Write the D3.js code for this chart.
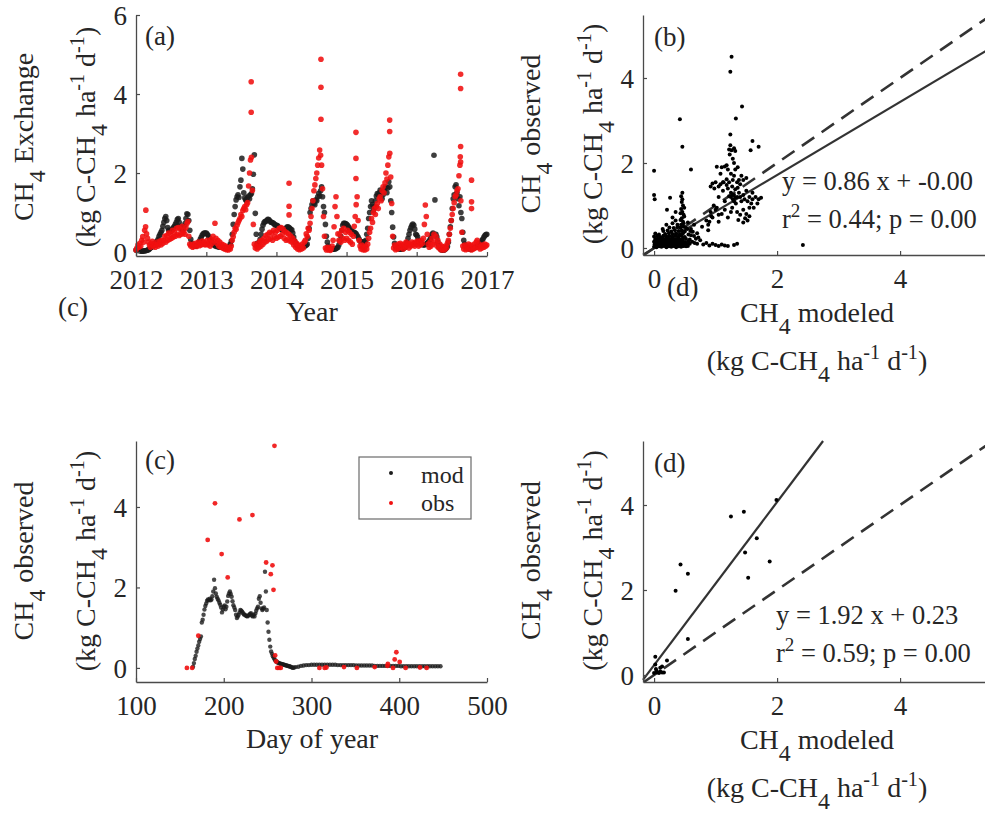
<!DOCTYPE html>
<html>
<head>
<meta charset="utf-8">
<script src="https://cdn.jsdelivr.net/npm/d3@7"></script>
<style>
  body { margin: 0; background: #fff; }
</style>
</head>
<body>
<svg id="fig" width="985" height="817"></svg>
<script>
// ---------- (a) daily CH4 exchange, sampled every 5 days from 1 Jan of each year ----------
const mod2012 = [0.05,0.05,0.04,0.04,0.03,0.03,0.02,0.02,0.03,0.03,
  0.03,0.04,0.05,0.06,0.08,0.10,0.12,0.14,0.16,0.19,
  0.22,0.25,0.28,0.32,0.40,0.45,0.50,0.55,0.65,0.75,
  0.85,0.90,0.80,0.62,0.55,0.53,0.52,0.55,0.58,0.62,
  0.65,0.70,0.75,0.82,0.85,0.75,0.65,0.60,0.56,0.57,
  0.65,0.72,0.85,0.97,0.95,0.80,0.55,0.32,0.22,0.18,
  0.16,0.15,0.15,0.16,0.18,0.22,0.27,0.33,0.38,0.43,
  0.46,0.48,0.48];
const mod2013 = [0.48,0.45,0.42,0.37,0.32,0.28,0.24,0.20,0.18,0.16,
  0.15,0.14,0.14,0.13,0.13,0.12,0.12,0.11,0.11,0.10,
  0.10,0.10,0.10,0.12,0.15,0.20,0.28,0.45,0.70,0.95,
  1.15,1.32,1.40,1.45,1.38,1.65,1.82,2.37,2.10,1.50,
  1.37,1.32,1.30,1.38,1.42,1.35,1.45,1.48,1.60,1.97,
  2.46,0.98,0.45,0.22,0.20,0.24,0.32,0.45,0.58,0.68,
  0.74,0.77,0.78,0.80,0.83,0.82,0.79,0.76,0.75,0.74,
  0.73,0.70,0.68];
const mod2014 = [0.68,0.67,0.64,0.62,0.60,0.58,0.57,0.56,0.56,0.58,
  0.60,0.63,0.64,0.62,0.60,0.57,0.56,0.48,0.38,0.28,
  0.22,0.18,0.16,0.15,0.14,0.13,0.13,0.13,0.14,0.15,
  0.16,0.17,0.20,0.35,0.60,1.00,1.10,1.20,1.30,1.23,
  1.20,1.32,1.30,1.40,1.49,1.42,1.55,1.65,1.40,1.15,
  1.00,0.70,0.40,0.25,0.15,0.10,0.08,0.07,0.07,0.07,
  0.08,0.08,0.09,0.10,0.12,0.18,0.28,0.40,0.55,0.68,
  0.73,0.73,0.72];
const mod2015 = [0.70,0.68,0.64,0.60,0.56,0.53,0.51,0.50,0.50,0.48,
  0.46,0.42,0.38,0.33,0.28,0.26,0.25,0.25,0.25,0.26,
  0.30,0.45,0.60,0.85,1.00,1.15,1.30,1.20,1.05,1.15,
  1.30,1.42,1.48,1.45,1.50,1.57,1.52,1.35,1.45,1.55,
  1.62,1.65,1.50,1.62,1.78,1.65,1.30,1.00,0.63,0.38,
  0.22,0.15,0.12,0.10,0.09,0.08,0.08,0.08,0.08,0.09,
  0.10,0.12,0.16,0.24,0.35,0.45,0.55,0.62,0.68,0.71,
  0.68,0.58,0.45];
const mod2016 = [0.43,0.38,0.30,0.25,0.22,0.20,0.19,0.18,0.18,0.19,
  0.20,0.22,0.25,0.28,0.32,0.38,0.45,0.48,2.45,1.32,
  0.45,0.38,0.25,0.15,0.10,0.07,0.05,0.05,0.05,0.06,
  0.08,0.10,0.14,0.25,0.45,0.64,0.80,1.10,1.35,1.45,
  1.65,1.70,1.50,1.35,1.17,1.40,1.00,0.85,0.50,0.30,
  0.20,0.15,0.12,0.10,0.09,0.08,0.08,0.08,0.09,0.10,
  0.11,0.12,0.13,0.15,0.18,0.20,0.22,0.25,0.30,0.33,
  0.38,0.42,0.44,0.45];

const obs2012 = [0.05,0.10,0.18,0.12,0.22,0.15,0.30,0.39,0.25,0.55,
  0.64,0.46,0.35,0.25,0.18,0.12,0.22,0.27,0.15,0.20,
  0.12,0.18,0.25,0.15,0.20,0.28,0.18,0.30,0.22,0.30,
  0.40,0.25,0.42,0.30,0.48,0.32,0.45,0.35,0.55,0.38,
  0.50,0.40,0.60,0.45,0.62,0.42,0.58,0.45,0.65,0.48,
  0.55,0.45,0.62,0.72,0.77,0.40,0.20,0.15,0.18,0.12,
  0.20,0.15,0.22,0.14,0.18,0.25,0.16,0.22,0.18,0.28,
  0.20,0.25,0.18];
const obs2013 = [0.20,0.30,0.18,0.25,0.15,0.32,0.22,0.40,0.28,0.73,
  0.35,0.22,0.30,0.15,0.25,0.12,0.20,0.10,0.18,0.08,
  0.15,0.06,0.12,0.05,0.10,0.08,0.15,0.30,0.39,0.50,
  0.60,0.58,0.68,0.74,0.80,0.85,0.95,0.90,1.05,1.10,
  1.15,1.07,1.20,1.25,1.67,2.00,2.33,2.40,1.56,0.70,
  0.20,0.10,0.15,0.08,0.22,0.12,0.28,0.15,0.30,0.20,
  0.35,0.25,0.42,0.28,0.45,0.32,0.50,0.35,0.48,0.30,
  0.55,0.38,0.50];
const obs2014 = [0.35,0.55,0.38,0.60,0.40,0.62,0.45,0.58,0.35,0.52,
  0.30,0.48,0.32,0.45,0.28,0.40,0.25,0.35,0.18,0.28,
  0.12,0.22,0.08,0.18,0.06,0.15,0.08,0.20,0.10,0.25,
  0.30,0.46,0.40,0.60,0.55,0.73,0.90,1.10,1.30,1.55,
  1.70,1.86,2.00,2.20,2.38,2.58,2.45,2.20,1.60,0.90,
  0.40,0.10,0.05,0.12,0.06,0.10,0.04,0.08,0.15,0.30,
  0.64,1.15,1.40,0.90,0.46,0.30,0.45,0.25,0.55,0.35,
  0.60,0.30,0.50];
const obs2015 = [0.35,0.55,0.30,0.50,0.25,0.45,0.20,0.40,0.65,0.90,
  1.20,1.40,0.80,0.30,0.15,0.08,0.18,0.06,0.12,0.05,
  0.15,0.08,0.20,0.35,0.50,0.60,0.85,0.75,1.00,1.10,
  0.95,1.15,1.23,1.10,1.35,1.40,1.30,1.55,1.65,1.50,
  1.75,2.00,1.85,2.20,2.41,2.50,1.90,1.23,0.40,0.10,
  0.18,0.06,0.15,0.08,0.20,0.10,0.22,0.12,0.18,0.08,
  0.20,0.12,0.25,0.15,0.22,0.10,0.20,0.15,0.25,0.18,
  0.22,0.15,0.25];
const obs2016 = [0.20,0.28,0.15,0.25,0.18,0.30,0.22,0.35,0.70,1.19,
  0.90,0.45,0.20,0.12,0.25,0.15,0.35,0.20,0.45,0.25,
  0.40,0.15,0.30,0.10,0.20,0.06,0.15,0.05,0.12,0.06,
  0.15,0.10,0.22,0.30,0.45,0.60,0.80,0.95,1.10,1.25,
  1.40,1.44,1.55,1.60,1.93,2.20,1.30,0.50,0.15,0.08,
  0.18,0.06,0.15,0.08,0.20,0.10,0.18,0.05,0.15,0.08,
  0.20,0.10,0.25,0.30,0.12,0.20,0.08,0.15,0.10,0.18,
  0.12,0.20,0.15,0.18];

// isolated high observed flux days (decimal year, value)
const obsPeakYear = [2012.14, 2013.64, 2013.64, 2014.18, 2014.18, 2014.18, 2014.635, 2014.635, 2014.635,
  2015.134, 2015.134, 2015.134, 2015.615, 2015.615, 2016.625, 2016.625, 2016.625, 2016.62, 2016.625,
  2016.78, 2016.78, 2016.78];
const obsPeakVal = [1.06, 3.54, 4.31, 1.74, 1.16, 0.94, 4.88, 4.17, 3.36,
  3.03, 2.37, 1.86, 3.05, 3.34, 4.50, 4.14, 2.67, 2.41, 2.28,
  1.82, 1.27, 1.10];

const yearTicks = [2012, 2013, 2014, 2015, 2016, 2017];

// ---------- (b) all days: modeled vs observed ----------
const scatterB = [
  // low-flux cluster
  [0.00,0.03],[0.04,0.02],[0.08,0.04],[0.12,0.03],[0.16,0.05],[0.20,0.02],[0.24,0.04],[0.28,0.03],[0.32,0.05],[0.36,0.02],[0.40,0.04],[0.44,0.03],[0.48,0.05],[0.52,0.04],
  [0.02,0.06],[0.06,0.07],[0.10,0.05],[0.14,0.06],[0.18,0.07],[0.22,0.05],[0.26,0.06],[0.30,0.07],[0.34,0.05],[0.38,0.06],[0.42,0.07],[0.46,0.05],[0.50,0.06],[0.55,0.05],
  [0.01,0.09],[0.05,0.10],[0.09,0.08],[0.13,0.10],[0.17,0.09],[0.21,0.11],[0.25,0.08],[0.29,0.10],[0.33,0.09],[0.37,0.10],[0.41,0.08],[0.45,0.11],[0.49,0.09],[0.53,0.08],[0.58,0.10],
  [0.02,0.12],[0.06,0.13],[0.10,0.12],[0.14,0.13],[0.18,0.12],[0.22,0.13],[0.26,0.12],[0.30,0.13],[0.34,0.12],[0.38,0.13],[0.42,0.12],[0.47,0.13],[0.52,0.12],
  [0.00,0.15],[0.04,0.16],[0.08,0.14],[0.12,0.15],[0.16,0.17],[0.20,0.14],[0.24,0.16],[0.28,0.15],[0.32,0.17],[0.36,0.14],[0.40,0.16],[0.44,0.15],[0.50,0.14],[0.56,0.16],
  [0.02,0.18],[0.06,0.19],[0.10,0.18],[0.14,0.19],[0.18,0.18],[0.22,0.19],[0.26,0.18],[0.30,0.19],[0.34,0.18],[0.38,0.19],[0.42,0.18],[0.46,0.19],
  [0.02,0.21],[0.06,0.22],[0.10,0.20],[0.14,0.23],[0.18,0.21],[0.22,0.22],[0.26,0.20],[0.30,0.23],[0.34,0.21],[0.38,0.22],[0.42,0.20],[0.47,0.22],[0.52,0.21],
  [0.00,0.27],[0.05,0.28],[0.10,0.26],[0.15,0.29],[0.20,0.27],[0.25,0.28],[0.30,0.26],[0.35,0.29],[0.40,0.27],[0.45,0.28],[0.50,0.26],
  [0.02,0.34],[0.08,0.32],[0.18,0.33],[0.24,0.35],[0.30,0.33],[0.36,0.34],[0.42,0.32],[0.47,0.35],
  [0.15,0.40],[0.22,0.41],[0.28,0.39],[0.34,0.42],[0.40,0.40],[0.45,0.41],[0.50,0.39],
  [0.25,0.48],[0.32,0.47],[0.38,0.49],[0.43,0.48],[0.48,0.50],[0.52,0.47],
  [0.60,0.30],[0.63,0.38],[0.68,0.22],[0.72,0.25],[0.66,0.12],[0.56,0.32],[0.59,0.40],[0.54,0.45],
  [0.44,0.55],[0.47,0.62],[0.45,0.70],[0.48,0.78],[0.46,0.85],[0.44,0.92],[0.47,1.00],[0.45,1.08],[0.46,1.15],[0.44,1.22],[0.46,1.30],
  [0.48,0.58],[0.43,0.66],[0.49,0.74],[0.43,0.82],[0.49,0.95],
  [0.30,0.58],[0.35,0.65],[0.26,1.18],[0.21,0.90],[0.35,0.85],[0.30,0.72],[0.38,0.55],[0.20,0.55],[0.14,0.45],
  [0.58,0.20],[0.62,0.15],[0.65,0.28],[0.70,0.10],[0.75,0.18],[0.80,0.08],[0.85,0.12],[0.90,0.06],[0.95,0.10],[1.00,0.07],
  [1.05,0.05],[1.10,0.08],[1.15,0.06],[1.20,0.05],[1.30,0.07],[1.35,0.10],[0.60,0.45],[0.65,0.55],[0.70,0.35],[0.78,0.50],[0.55,0.60],
  [0.85,0.65],[0.88,0.42],[0.90,0.62],[0.92,0.85],[0.95,0.72],[1.00,0.90],[1.05,0.78],
  // peak-season cloud
  [1.02,1.91],[1.10,1.90],[1.15,1.92],[1.20,1.85],[1.08,1.75],[1.25,1.75],[1.30,1.70],[1.18,1.62],[1.22,1.55],[1.28,1.60],
  [1.35,1.55],[1.40,1.50],[0.92,1.45],[0.98,1.40],[1.05,1.45],[1.12,1.35],[1.20,1.40],[1.25,1.30],[1.30,1.25],[1.35,1.20],
  [1.28,1.15],[1.22,1.22],[1.38,1.30],[1.45,1.25],[1.50,1.35],[1.55,1.20],[1.60,1.15],[1.65,1.20],[1.70,1.15],[1.42,1.10],
  [1.33,1.05],[1.27,0.95],[1.35,0.85],[1.45,0.90],[1.50,0.80],[1.55,0.75],[1.37,0.66],[1.45,0.60],[1.20,0.72],[1.10,0.80],
  [1.30,2.00],[1.26,2.30],[1.24,2.42],[1.32,2.28],[1.22,2.32],[1.24,2.67],[1.33,3.05],[1.43,3.33],[1.26,4.50],[1.24,4.15],
  [1.60,2.52],[1.57,2.30],[1.70,2.38],[1.45,1.60],[1.50,1.65],[1.15,1.10],[1.05,1.20],
  [0.95,1.52],[1.00,1.55],[1.08,1.50],[1.13,1.55],[1.18,1.48],[1.27,1.45],[1.32,1.38],[1.36,1.42],[1.25,1.20],[1.30,1.10],
  [1.32,1.18],[1.28,1.25],[1.40,1.20],[1.47,1.15],[1.52,1.10],[1.58,1.05],[1.62,0.95],[1.55,0.95],[1.48,0.70],[1.52,0.65],
  [1.40,0.78],[1.25,0.85],[1.15,0.90],[1.02,0.95],[0.97,1.00],[0.93,0.75],[0.88,0.55],[1.05,0.62],[1.12,1.55],[1.38,1.60],
  [1.42,1.70],[1.18,1.95],[1.32,1.85],[1.36,1.90],[1.28,2.10],[1.30,2.35],[1.23,2.20],[1.74,1.18],[1.68,1.05],[1.60,1.30],
  // isolated days
  [0.00,1.82],[0.00,1.25],[0.01,1.15],[0.42,3.03],[0.46,2.38],[0.60,1.85],[2.42,0.07]
];

// ---------- (c) one season by day of year ----------
const cModDaily = [0.03,0.12,0.22,0.30,0.40,0.48,0.56,0.65,0.72,0.78,
  1.13,1.20,1.32,1.45,1.54,1.60,1.67,1.70,1.68,1.72,
  1.68,1.70,1.78,1.90,2.19,1.98,1.85,1.77,1.72,1.68,
  1.62,1.57,1.50,1.38,1.45,1.52,1.55,1.46,1.52,1.65,
  1.79,1.85,1.90,1.84,1.77,1.66,1.56,1.50,1.44,1.32,
  1.24,1.28,1.32,1.38,1.44,1.42,1.40,1.36,1.33,1.32,
  1.30,1.29,1.28,1.30,1.32,1.34,1.36,1.30,1.28,1.32,
  1.28,1.35,1.42,1.48,1.52,1.72,1.78,1.62,1.48,1.44,
  1.47,1.50,2.39,1.90,1.44,1.13,0.90,0.70,0.53,0.41,
  0.35,0.29,0.25,0.21,0.18,0.16,0.14,0.13,0.12,0.11,
  0.10,0.10,0.09,0.08,0.08,0.07,0.06,0.06,0.05,0.04,
  0.04,0.03,0.02,0.01,0.00,0.01];            // days 165-280
const cModTail = [0.02,0.03,0.05,0.06,0.07,0.07,0.08,0.08,0.08,0.08,
  0.08,0.08,0.08,0.08,0.08,0.08,0.07,0.07,0.07,0.07,
  0.07,0.07,0.07,0.06,0.06,0.06,0.06,0.06,0.06,0.06,
  0.05,0.05,0.05,0.05,0.05,0.05,0.05,0.05,0.05,0.05,
  0.04,0.04,0.04,0.04,0.04,0.04,0.04,0.04,0.04,0.04,
  0.04,0.04,0.04,0.04,0.04,0.04];            // days 282-447, every 3 days
const cObsDay = [158,164,171,181.7,190,197.6,204.5,217.9,232.7,248.3,
  253.6,255.5,256.7,257.8,258.6,259.7,261,263,265,309,
  315,317,337,351.7,372,386.6,387,392.9,394.8,396.7,
  400.5,407.3,423.6,431.2];
const cObsVal = [0,0,0.80,3.18,4.09,2.83,2.25,3.69,3.80,2.62,
  2.33,2.55,1.94,5.52,0.31,0.16,0,0,0,0,
  0,0.01,0.02,0,0.02,0.05,0.10,0,0.21,0.39,
  0.15,0,0.01,0];
const dayTicks = [100, 200, 300, 400, 500];

// ---------- (d) same season: modeled vs observed ----------
const scatterD = [[0.35,1.98],[0.43,2.60],[0.55,2.38],[0.55,0.85],[1.25,3.73],[1.46,3.84],[1.48,2.88],
  [1.53,2.29],[1.67,3.22],[1.88,2.67],[1.99,4.12],[0.02,0.43],[0.02,0.25],[0.03,0.14],[0.00,0.05],
  [0.05,0.06],[0.08,0.05],[0.10,0.08],[0.13,0.06],[0.16,0.06],[0.13,0.20],[0.21,0.34],[0.10,0.17],[0.04,0.10]];

// least-squares fits printed on (b) and (d)
const fitSlope = [0.86, 1.92];
const fitIntercept = [-0.004, 0.23];
const fitR2 = [0.44, 0.59];
const fitP = [0.00, 0.00];
const scatterTicks = [0, 2, 4];

// ---------- drawing ----------
const svg = d3.select("#fig");
const FONT = "Liberation Serif, Times New Roman, serif";
const INK = "#262626", AXIS = "#4a4a4a", LINE = "#333333";
const BLACK = "#1c1c1c", RED = "#f01010";

// tiny TeX-like markup: _x subscript, ^{..} superscript
function parseTex(s) {
  const out = []; let i = 0, buf = "";
  while (i < s.length) {
    const c = s[i];
    if (c === "_" || c === "^") {
      if (buf) { out.push({ t: buf, k: 0 }); buf = ""; }
      let txt;
      if (s[i + 1] === "{") { const j = s.indexOf("}", i); txt = s.slice(i + 2, j); i = j + 1; }
      else { txt = s[i + 1]; i += 2; }
      out.push({ t: txt, k: c === "_" ? 1 : -1 });
    } else { buf += c; i++; }
  }
  if (buf) out.push({ t: buf, k: 0 });
  return out;
}
function texText(parent, s, x, y, size, anchor, rotate) {
  const t = parent.append("text")
    .attr("font-family", FONT).attr("fill", INK)
    .attr("font-size", size)
    .attr("text-anchor", anchor || "start");
  if (rotate) t.attr("transform", `translate(${x},${y}) rotate(-90)`);
  else t.attr("x", x).attr("y", y);
  let off = 0;
  parseTex(s).forEach(p => {
    const target = p.k === 1 ? size * 0.42 : p.k === -1 ? -size * 0.4 : 0;
    const ts = t.append("tspan").attr("dy", target - off).text(p.t);
    if (p.k) ts.attr("font-size", size * (p.k === 1 ? 0.85 : 0.72));
    off = target;
  });
  return t;
}

function axes(g, x, y, xTicks, yTicks, xFmt) {
  const bx = g.append("g").attr("transform", `translate(0,${y.range()[0]})`)
    .call(d3.axisBottom(x).tickValues(xTicks).tickSize(-4).tickSizeOuter(0).tickFormat(xFmt));
  bx.selectAll("text").attr("y", 33).attr("dy", null);
  const ly = g.append("g").attr("transform", `translate(${x.range()[0]},0)`)
    .call(d3.axisLeft(y).tickValues(yTicks).tickSize(-4).tickSizeOuter(0).tickFormat(d3.format("d")));
  ly.selectAll("text").attr("x", -9).attr("dy", "0.34em");
  [bx, ly].forEach(a => {
    a.attr("font-family", FONT).attr("font-size", 27);
    a.select(".domain").attr("stroke", AXIS).attr("stroke-width", 1.3);
    a.selectAll(".tick line").attr("stroke", AXIS).attr("stroke-width", 1.2);
    a.selectAll("text").attr("fill", INK);
  });
}

function fitSegment(x, y, slope, icpt) {
  const [x0, x1] = x.domain(), [y0, y1] = y.domain();
  let a = Math.max(x0, (y0 - icpt) / slope), b = Math.min(x1, (y1 - icpt) / slope);
  return [[a, slope * a + icpt], [b, slope * b + icpt]];
}

function yearToDate(yr) {
  const Y = Math.floor(yr), s = new Date(Y, 0, 1), e = new Date(Y + 1, 0, 1);
  return new Date(+s + (yr - Y) * (e - s));
}

// ---- panel (a) ----
{
  const g = svg.append("g");
  const x = d3.scaleTime().domain([new Date(2012, 0, 1), new Date(2017, 0, 1)]).range([136, 487]);
  const y = d3.scaleLinear().domain([-0.1, 6]).range([256, 15]);
  const toPts = arrs => arrs.flatMap((vals, i) => vals.map((v, k) => ({ d: new Date(2012 + i, 0, 1 + 5 * k), v })));
  const modPts = toPts([mod2012, mod2013, mod2014, mod2015, mod2016]);
  const obsPts = toPts([obs2012, obs2013, obs2014, obs2015, obs2016])
    .concat(obsPeakYear.map((yr, i) => ({ d: yearToDate(yr), v: obsPeakVal[i] })));
  g.append("g").selectAll("circle").data(modPts).join("circle")
    .attr("cx", d => x(d.d)).attr("cy", d => y(d.v)).attr("r", 2.8)
    .attr("fill", BLACK).attr("fill-opacity", 0.85);
  g.append("g").selectAll("circle").data(obsPts).join("circle")
    .attr("cx", d => x(d.d)).attr("cy", d => y(d.v)).attr("r", 2.8)
    .attr("fill", RED).attr("fill-opacity", 0.88);
  axes(g, x, y, yearTicks.map(yr => new Date(yr, 0, 1)), [0, 2, 4, 6], d3.timeFormat("%Y"));
  texText(g, "CH_4 Exchange", 33, 137, 28, "middle", true);
  texText(g, "(kg C-CH_4 ha^{-1} d^{-1})", 95, 137, 28, "middle", true);
  texText(g, "Year", 312, 321, 28, "middle");
  texText(g, "(a)", 145, 45, 27);
  texText(g, "(c)", 58, 316, 27);
}

// ---- scatter panels (b) and (d) ----
function scatterPanel(top, bottom, yZero, data, fi, tag, statY, statX) {
  const g = svg.append("g");
  const x = d3.scaleLinear().domain([-0.18, 5.5]).range([643, 643 + 5.68 * 61.5]);
  const y = d3.scaleLinear().domain([-(bottom - yZero) / 42.5, (yZero - top) / 42.5]).range([bottom, top]);
  const line = d3.line().x(d => x(d[0])).y(d => y(d[1]));
  g.append("path").attr("d", line(fitSegment(x, y, 1, 0)))
    .attr("stroke", LINE).attr("stroke-width", 2.6).attr("stroke-dasharray", "15,9").attr("fill", "none");
  g.append("path").attr("d", line(fitSegment(x, y, fitSlope[fi], fitIntercept[fi])))
    .attr("stroke", LINE).attr("stroke-width", 2.2).attr("fill", "none");
  g.append("g").selectAll("circle").data(data).join("circle")
    .attr("cx", d => x(d[0])).attr("cy", d => y(d[1])).attr("r", 2.0).attr("fill", "#000");
  axes(g, x, y, scatterTicks, scatterTicks, d3.format("d"));
  const mid = (top + bottom) / 2 - 1;
  texText(g, "CH_4 observed", 540, mid, 28, "middle", true);
  texText(g, "(kg C-CH_4 ha^{-1} d^{-1})", 602, mid, 28, "middle", true);
  texText(g, "CH_4 modeled", 817, bottom + 67, 28, "middle");
  texText(g, "(kg C-CH_4 ha^{-1} d^{-1})", 817, bottom + 115, 28, "middle");
  texText(g, tag, 654, top + 31, 27);
  const f2 = d3.format(".2f");
  const icpt = fitIntercept[fi];
  const icptTxt = (icpt < 0 ? "-" : "") + f2(Math.abs(icpt));
  texText(g, `y = ${f2(fitSlope[fi])} x + ${icptTxt}`, statX, statY, 26.5);
  texText(g, `r^{2} = ${f2(fitR2[fi])}; p = ${f2(fitP[fi])}`, statX, statY + 38, 26.5);
  return g;
}
const gb = scatterPanel(15, 255, 248, scatterB, 0, "(b)", 190, 782);
texText(gb, "(d)", 667, 296, 27);
scatterPanel(441, 682, 675, scatterD, 1, "(d)", 624, 776);

// ---- panel (c) ----
{
  const g = svg.append("g");
  const x = d3.scaleLinear().domain([100, 500]).range([136, 487]);
  const y = d3.scaleLinear().domain([-0.35, 5.64]).range([682, 441]);
  const modPts = cModDaily.map((v, i) => [165 + i, v]).concat(cModTail.map((v, i) => [282 + 3 * i, v]));
  g.append("g").selectAll("circle").data(modPts).join("circle")
    .attr("cx", d => x(d[0])).attr("cy", d => y(d[1])).attr("r", 2.2)
    .attr("fill", BLACK).attr("fill-opacity", 0.8);
  g.append("g").selectAll("circle").data(cObsDay).join("circle")
    .attr("cx", d => x(d)).attr("cy", (d, i) => y(cObsVal[i])).attr("r", 2.4)
    .attr("fill", RED).attr("fill-opacity", 0.9);
  axes(g, x, y, dayTicks, [0, 2, 4], d3.format("d"));
  texText(g, "CH_4 observed", 33, 561, 28, "middle", true);
  texText(g, "(kg C-CH_4 ha^{-1} d^{-1})", 95, 561, 28, "middle", true);
  texText(g, "Day of year", 312, 748, 28, "middle");
  texText(g, "(c)", 145, 469, 27);
  // legend
  const lg = g.append("g");
  lg.append("rect").attr("x", 359).attr("y", 457).attr("width", 112).attr("height", 62)
    .attr("fill", "#fff").attr("stroke", "#6a6a6a").attr("stroke-width", 1.2);
  [["mod", BLACK, 473, 483], ["obs", RED, 503, 511]].forEach(([lab, col, cy, by]) => {
    lg.append("circle").attr("cx", 391).attr("cy", cy).attr("r", 2).attr("fill", col);
    texText(lg, lab, 421, by, 24);
  });
}
</script>
</body>
</html>
